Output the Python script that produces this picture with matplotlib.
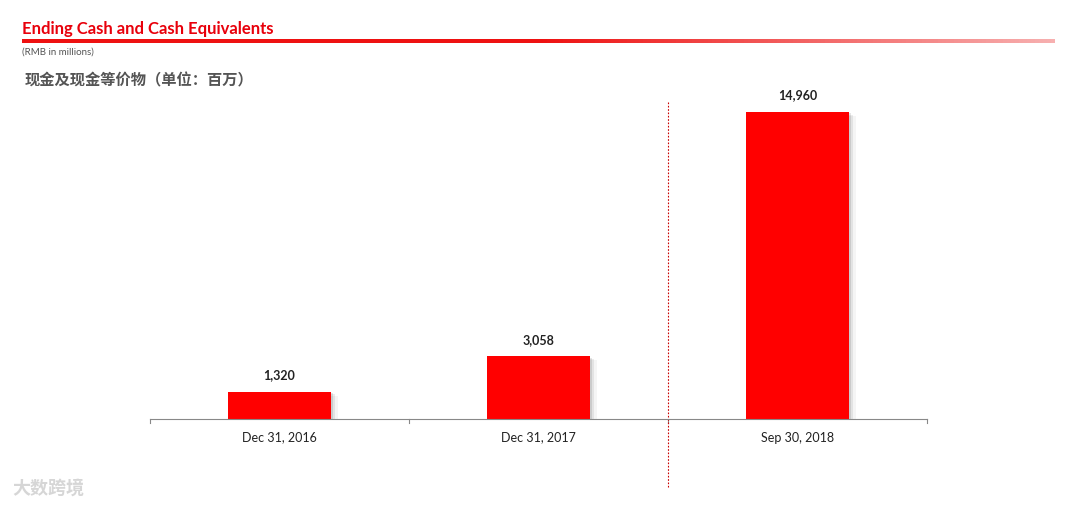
import matplotlib
matplotlib.use("Agg")
import matplotlib.pyplot as plt
import numpy as np
from matplotlib.patches import Rectangle
from matplotlib.colors import LinearSegmentedColormap

categories = ["Dec 31, 2016", "Dec 31, 2017", "Sep 30, 2018"]
values = [1320, 3058, 14960]
value_labels = ["1,320", "3,058", "14,960"]

plt.rcParams['font.family'] = ['Lato', 'Noto Sans CJK SC', 'DejaVu Sans']

W, H = 1080, 507
fig = plt.figure(figsize=(W / 100, H / 100), dpi=100)

# axes: x 150..927 px, baseline at y=419, top at y=100
ax = fig.add_axes([150 / W, 1 - 419 / H, 777 / W, 319 / H])
x = np.arange(len(categories))
ylim_top = 14960 * 319 / 307
ax.set_xlim(-0.5, 2.5)
ax.set_ylim(0, ylim_top)

# soft shadow behind the bars
for i, v in zip(x, values):
    for k, a in enumerate([0.10, 0.07, 0.04]):
        off = 0.008 * (k + 1)
        ax.add_patch(Rectangle((i - 0.2 + off, -ylim_top * 0.004 * (k + 1)), 0.4, v,
                               color="black", alpha=a, lw=0, zorder=1))
ax.bar(x, values, width=0.4, color="#ff0000", zorder=2)
for i, v, lab in zip(x, values, value_labels):
    ax.annotate(lab, (i, v), textcoords="offset points", xytext=(0, 9),
                ha="center", fontsize=9, fontweight="bold", color="#222222")

for s in ["top", "right", "left"]:
    ax.spines[s].set_visible(False)
ax.spines["bottom"].set_color("#888888")
ax.set_yticks([])
ax.set_xticks(x)
ax.set_xticklabels(categories, fontsize=9, color="#222222")
ax.tick_params(axis="x", length=0, pad=9)
for b in [-0.5, 0.5, 1.5, 2.5]:
    ax.plot([b, b], [0, -ylim_top * 0.012], color="#888888", lw=0.8, clip_on=False)

# dotted separator
ax.plot([1.5, 1.5], [ylim_top * 0.994, -ylim_top * 0.215], color="#cc0000",
        lw=0.8, linestyle=(0, (1.5, 1.5)), clip_on=False)

# header
fig.text(22 / W, 1 - 29 / H, "Ending Cash and Cash Equivalents", color="#e8000b",
         fontsize=12, fontweight="bold", va="center")
grad = np.linspace(0, 1, 256).reshape(1, -1)
cmap = LinearSegmentedColormap.from_list("g", ["#ee1111", "#ee1111", "#f7b0b0"])
gax = fig.add_axes([22 / W, 1 - 43 / H, 1033 / W, 4 / H])
gax.imshow(grad, aspect="auto", cmap=cmap)
gax.axis("off")
fig.text(22 / W, 1 - 52 / H, "(RMB in millions)", color="#555555", fontsize=7, va="center")
fig.text(25 / W, 1 - 81 / H, "现金及现金等价物（单位：百万）", color="#555555",
         fontsize=11, fontweight="bold", va="center")
fig.text(12 / W, 1 - 488 / H, "大数跨境", color="#cccccc", fontsize=13,
         fontweight="bold", va="center", alpha=0.8)

fig.savefig("out.png", dpi=100)
